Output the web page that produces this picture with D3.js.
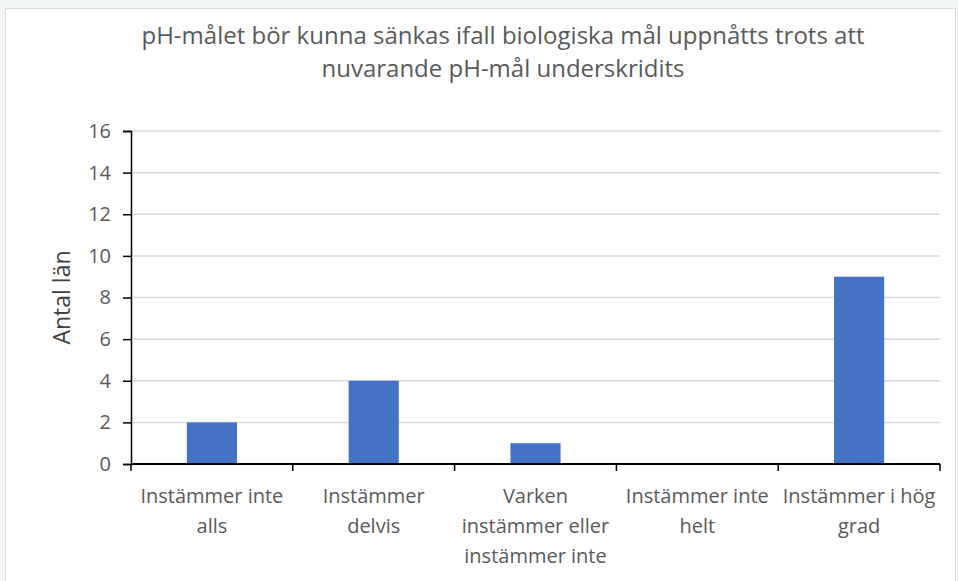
<!DOCTYPE html>
<html>
<head>
<meta charset="utf-8">
<script src="https://cdn.jsdelivr.net/npm/d3@7"></script>
<style>
  body { margin: 0; background: #f2f5f5; }
  svg { display: block; }
  text { font-family: "Open Sans", Lato, sans-serif; }
</style>
</head>
<body>
<div id="chart"></div>
<script>
var categories = ["Instämmer inte alls", "Instämmer delvis", "Varken instämmer eller instämmer inte", "Instämmer inte helt", "Instämmer i hög grad"];
var catLines = [["Instämmer inte", "alls"], ["Instämmer", "delvis"], ["Varken", "instämmer eller", "instämmer inte"], ["Instämmer inte", "helt"], ["Instämmer i hög", "grad"]];
var values = [2, 4, 1, 0, 9];
var yTicks = [0, 2, 4, 6, 8, 10, 12, 14, 16];
var titleLines = ["pH-målet bör kunna sänkas ifall biologiska mål uppnåtts trots att", "nuvarande pH-mål underskridits"];
var yLabel = "Antal län";

var W = 958, H = 581,
    margin = {top: 131, right: 18, bottom: 117, left: 131},
    width = W - margin.left - margin.right,
    height = H - margin.top - margin.bottom;

var root = d3.select("#chart").append("svg")
    .attr("width", W)
    .attr("height", H);

// white chart area
root.append("rect")
    .attr("x", 5.5).attr("y", 8.5)
    .attr("width", W - 8).attr("height", H - 6)
    .attr("fill", "#fff")
    .attr("stroke", "#d9d9d9");

var title = root.append("text")
    .attr("text-anchor", "middle")
    .attr("fill", "#595959")
    .style("font-size", "24px");
titleLines.forEach(function(t, i) {
    title.append("tspan").attr("x", 503).attr("y", 44 + i * 33).text(t);
});

var svg = root.append("g")
    .attr("transform", "translate(" + margin.left + "," + margin.top + ")");

var x = d3.scaleBand()
    .domain(categories)
    .range([0, width])
    .padding(0);

var y = d3.scaleLinear()
    .domain([0, 16])
    .range([height, 0]);

// gridlines
svg.selectAll(".grid")
    .data(yTicks.filter(function(d) { return d > 0; }))
    .enter().append("line")
    .attr("x1", 0).attr("x2", width)
    .attr("y1", function(d) { return y(d); })
    .attr("y2", function(d) { return y(d); })
    .attr("stroke", "#d9d9d9")
    .attr("stroke-width", 1.5);

// bars
var barW = x.bandwidth() * 0.31;
svg.selectAll(".bar")
    .data(values)
    .enter().append("rect")
    .attr("x", function(d, i) { return x(categories[i]) + (x.bandwidth() - barW) / 2; })
    .attr("y", function(d) { return y(d); })
    .attr("width", barW)
    .attr("height", function(d) { return height - y(d); })
    .attr("fill", "#4472c4");

// y axis
var yAxis = svg.append("g")
    .call(d3.axisLeft(y).tickValues(yTicks).tickSize(8).tickPadding(12));
yAxis.select(".domain").attr("stroke", "#000").attr("stroke-width", 1.5);
yAxis.selectAll(".tick line").attr("stroke", "#000").attr("stroke-width", 1.5);
yAxis.selectAll(".tick text")
    .attr("fill", "#595959")
    .style("font-size", "20px")
    .style("font-family", "'Open Sans', sans-serif");

// x axis
var xAxis = svg.append("g")
    .attr("transform", "translate(0," + height + ")");
xAxis.append("line")
    .attr("x1", 0).attr("x2", width)
    .attr("stroke", "#000").attr("stroke-width", 2);
var bounds = categories.map(function(c) { return x(c); }).concat([width]);
xAxis.selectAll(".xt")
    .data(bounds)
    .enter().append("line")
    .attr("x1", function(d) { return d; })
    .attr("x2", function(d) { return d; })
    .attr("y1", 0).attr("y2", 7)
    .attr("stroke", "#000").attr("stroke-width", 1.5);

var labels = xAxis.selectAll(".xl")
    .data(catLines)
    .enter().append("text")
    .attr("text-anchor", "middle")
    .attr("fill", "#595959")
    .style("font-size", "20px");
labels.each(function(lines, i) {
    var t = d3.select(this);
    var cx = x(categories[i]) + x.bandwidth() / 2;
    lines.forEach(function(l, j) {
        t.append("tspan").attr("x", cx).attr("y", 39 + j * 30).text(l);
    });
});

// y label
root.append("text")
    .attr("transform", "translate(70," + (margin.top + height / 2) + ") rotate(-90)")
    .attr("text-anchor", "middle")
    .attr("fill", "#404040")
    .style("font-size", "23px")
    .text(yLabel);
</script>
</body>
</html>
